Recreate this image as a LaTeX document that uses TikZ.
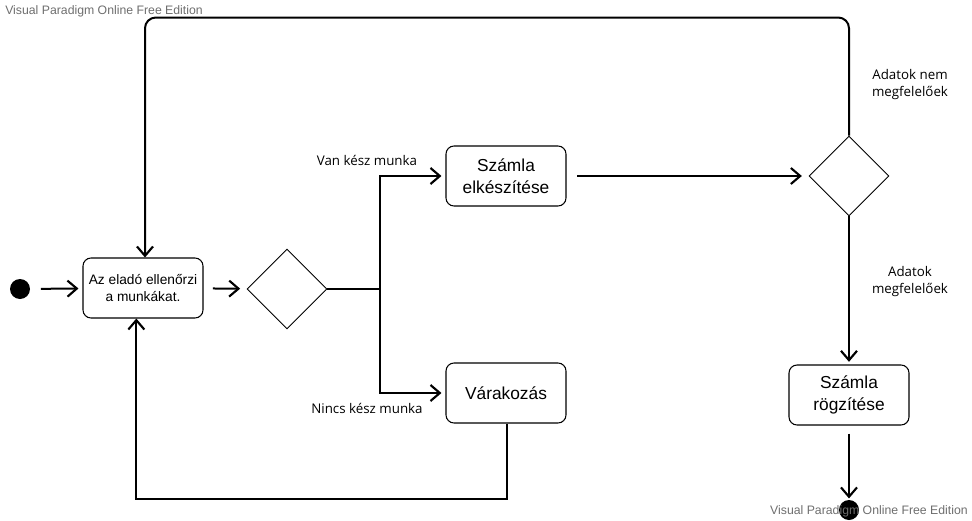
\documentclass[tikz,border=0pt]{standalone}
\usepackage{fontspec}
\setmainfont{Liberation Sans}
\newfontfamily\labelfont{Open Sans}
\usetikzlibrary{positioning, arrows.meta, shapes.geometric}
\definecolor{VPgray}{RGB}{110, 110, 110}
\tikzset{
  act/.style={rectangle, rounded corners=6pt, draw=black, line width=0.8pt, fill=white,
    minimum height=45pt, minimum width=90pt, align=center, inner sep=2pt},
  decision/.style={diamond, draw=black, line width=0.7pt, fill=white,
    minimum width=60pt, minimum height=60pt, inner sep=0pt},
  dot/.style={circle, fill=black, minimum size=15pt, inner sep=0pt},
  flow/.style={-{Straight Barb[length=7pt, width=12pt, line width=1.6pt]}, line width=1.5pt},
  line/.style={line width=1.5pt},
  guard/.style={font=\labelfont\fontsize{10}{12.8}\selectfont, align=center},
  watermark/.style={font=\fontsize{9.2}{11}\selectfont, text=VPgray, inner sep=0pt},
}
\begin{document}
\begin{tikzpicture}[x=0.75pt, y=-0.75pt]
    \useasboundingbox (0,0) rectangle (972,521);
    \node[dot] (start) at (20,289) {};
    \node[act, font=\fontsize{10.3}{12.8}\selectfont] (check) at (143,288) {Az eladó ellenőrzi\\a munkákat.};
    \node[decision] (dA) at (287,289) {};
    \node[act, font=\fontsize{13}{16.5}\selectfont] (invoice) at (506,176) {Számla\\elkészítése};
    \node[act, font=\fontsize{13}{16.5}\selectfont] (wait) at (506,393) {Várakozás};
    \node[decision] (dB) at (849,176) {};
    \node[act, font=\fontsize{13}{16.5}\selectfont] (record) at (849,395) {Számla\\rögzítése};
    \node[dot] (stop) at (849,510) {};
    \coordinate (fork) at (380,289);
    % connectors
    \draw[flow, shorten <=8pt, shorten >=3pt] (start) -- (check);
    \draw[flow, shorten <=7pt, shorten >=5pt] (check) -- (dA);
    \draw[line] (dA.east) -- (fork);
    \draw[flow, shorten >=3pt] (fork) |- (invoice);
    \draw[flow, shorten >=3pt] (fork) |- (wait);
    \draw[flow, shorten <=8pt, shorten >=5pt] (invoice) -- (dB);
    \draw[flow, rounded corners=8pt] (dB.north) -- ++(0,-118) -| ([xshift=1.5pt]check.north);
    \draw[flow, shorten >=2pt] (dB.south) -- (record);
    \draw[flow, shorten <=6pt, shorten >=1pt] (record) -- (stop);
    \draw[flow] ([xshift=0.75pt]wait.south) -- ++(0,75) -| ([xshift=-5pt]check.south);
    % guards
    \node[guard] at (367,160) {Van kész munka};
    \node[guard] at (367,408) {Nincs kész munka};
    \node[guard] at (910,85) {Adatok nem\\megfelelőek};
    \node[guard] at (910,282) {Adatok\\megfelelőek};
    % watermarks
    \node[watermark, anchor=west] at (5,11) {Visual Paradigm Online Free Edition};
    \node[watermark, anchor=east] at (968,511) {Visual Paradigm Online Free Edition};
\end{tikzpicture}
\end{document}
